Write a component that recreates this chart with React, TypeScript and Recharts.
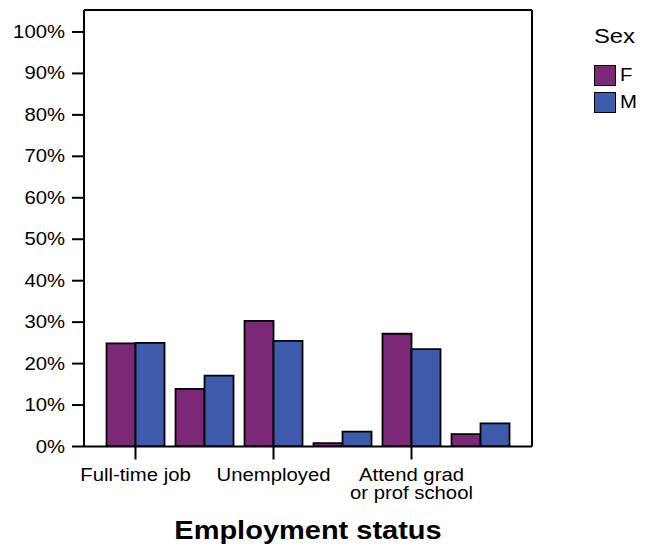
import React from 'react';
import { BarChart, Bar, XAxis, YAxis, Legend, Label } from 'recharts';

const categories = [
  'Full-time job',
  'Part-time job',
  'Unemployed',
  'Not in labor force',
  'Attend grad\nor prof school',
  'Other',
];
const femaleValues = [24.9, 13.9, 30.3, 0.8, 27.2, 3.0];
const maleValues = [25.0, 17.1, 25.5, 3.6, 23.5, 5.6];
const yTicks = [0, 10, 20, 30, 40, 50, 60, 70, 80, 90, 100];
const seriesNames = ['F', 'M'];
const seriesColors = ['#7B2876', '#3E5BAB'];
const legendTitle = 'Sex';
const xTitle = 'Employment status';

const data = categories.map((c, i) => ({
  category: c,
  [seriesNames[0]]: femaleValues[i],
  [seriesNames[1]]: maleValues[i],
}));

const FONT = '"Liberation Sans", Arial, sans-serif';
const SX = 1.16;

const XTick = (props: any) => {
  const { x, y, payload } = props;
  const lines = String(payload.value).split('\n');
  return (
    <g transform={`translate(${x},${y})`}>
      <text transform={`scale(${SX},1)`} textAnchor="middle" fontSize={17.5} fontFamily={FONT} fill="#000">
        {lines.map((l: string, i: number) => (
          <tspan key={i} x={0} dy={i === 0 ? 20 : 18}>
            {l}
          </tspan>
        ))}
      </text>
    </g>
  );
};

const YTick = (props: any) => {
  const { x, y, payload } = props;
  return (
    <g transform={`translate(${x},${y})`}>
      <text transform={`scale(${SX},1)`} textAnchor="end" dy={6} fontSize={17.5} fontFamily={FONT} fill="#000">
        {`${payload.value}%`}
      </text>
    </g>
  );
};

const renderLegend = (props: any) => {
  const { payload } = props;
  return (
    <div style={{ fontFamily: FONT, color: '#000' }}>
      <div style={{ fontSize: 20.5, height: 38, lineHeight: '24px', transform: `scaleX(${SX})`, transformOrigin: 'left' }}>
        {legendTitle}
      </div>
      {(payload || []).map((p: any, i: number) => (
        <div key={i} style={{ display: 'flex', alignItems: 'center', height: 27 }}>
          <div
            style={{
              width: 20,
              height: 19,
              background: p.color,
              border: '1.5px solid #000',
              boxSizing: 'content-box',
            }}
          />
          <span
            style={{
              marginLeft: 4,
              fontSize: 17.5,
              display: 'inline-block',
              transform: `scaleX(${SX})`,
              transformOrigin: 'left',
            }}
          >
            {p.value}
          </span>
        </div>
      ))}
    </div>
  );
};

const TitleLabel = (props: any) => {
  const { viewBox } = props;
  const cx = viewBox.x + viewBox.width / 2;
  return (
    <g transform={`translate(${cx},539)`}>
      <text transform={`scale(${SX},1)`} textAnchor="middle" fontSize={25} fontWeight="bold" fontFamily={FONT} fill="#000">
        {xTitle}
      </text>
    </g>
  );
};

export default function App() {
  return (
    <div style={{ position: 'absolute', left: 0, top: 0, background: '#fff' }}>
      <BarChart
        width={655}
        height={550}
        data={data}
        margin={{ top: 9, right: 122, bottom: 0, left: 0 }}
        barCategoryGap="8%"
        barGap={0}
      >
        <XAxis
          dataKey="category"
          height={103.5}
          interval={1}
          padding={{ left: 17, right: 17 }}
          tickSize={13}
          tickMargin={2}
          tick={<XTick />}
          axisLine={{ stroke: '#000', strokeWidth: 2 }}
          tickLine={{ stroke: '#000', strokeWidth: 2 }}
        >
          <Label content={<TitleLabel />} />
        </XAxis>
        <XAxis
          xAxisId="top"
          dataKey="category"
          orientation="top"
          height={1}
          tick={false}
          tickLine={false}
          axisLine={{ stroke: '#000', strokeWidth: 2 }}
        />
        <YAxis
          width={84}
          domain={[0, 105.3]}
          ticks={yTicks}
          allowDataOverflow
          tickSize={12}
          tickMargin={7}
          tick={<YTick />}
          axisLine={{ stroke: '#000', strokeWidth: 2 }}
          tickLine={{ stroke: '#000', strokeWidth: 2 }}
        />
        <YAxis
          yAxisId="right"
          orientation="right"
          width={1}
          domain={[0, 105.3]}
          tick={false}
          tickLine={false}
          axisLine={{ stroke: '#000', strokeWidth: 2 }}
        />
        <Legend
          content={renderLegend}
          layout="horizontal"
          verticalAlign="middle"
          align="center"
          wrapperStyle={{ position: 'absolute', left: 594, top: 24, width: 60, height: 100 }}
        />
        {seriesNames.map((s, i) => (
          <Bar
            key={s}
            dataKey={s}
            fill={seriesColors[i]}
            stroke="#000"
            strokeWidth={1.8}
            isAnimationActive={false}
          />
        ))}
      </BarChart>
    </div>
  );
}
